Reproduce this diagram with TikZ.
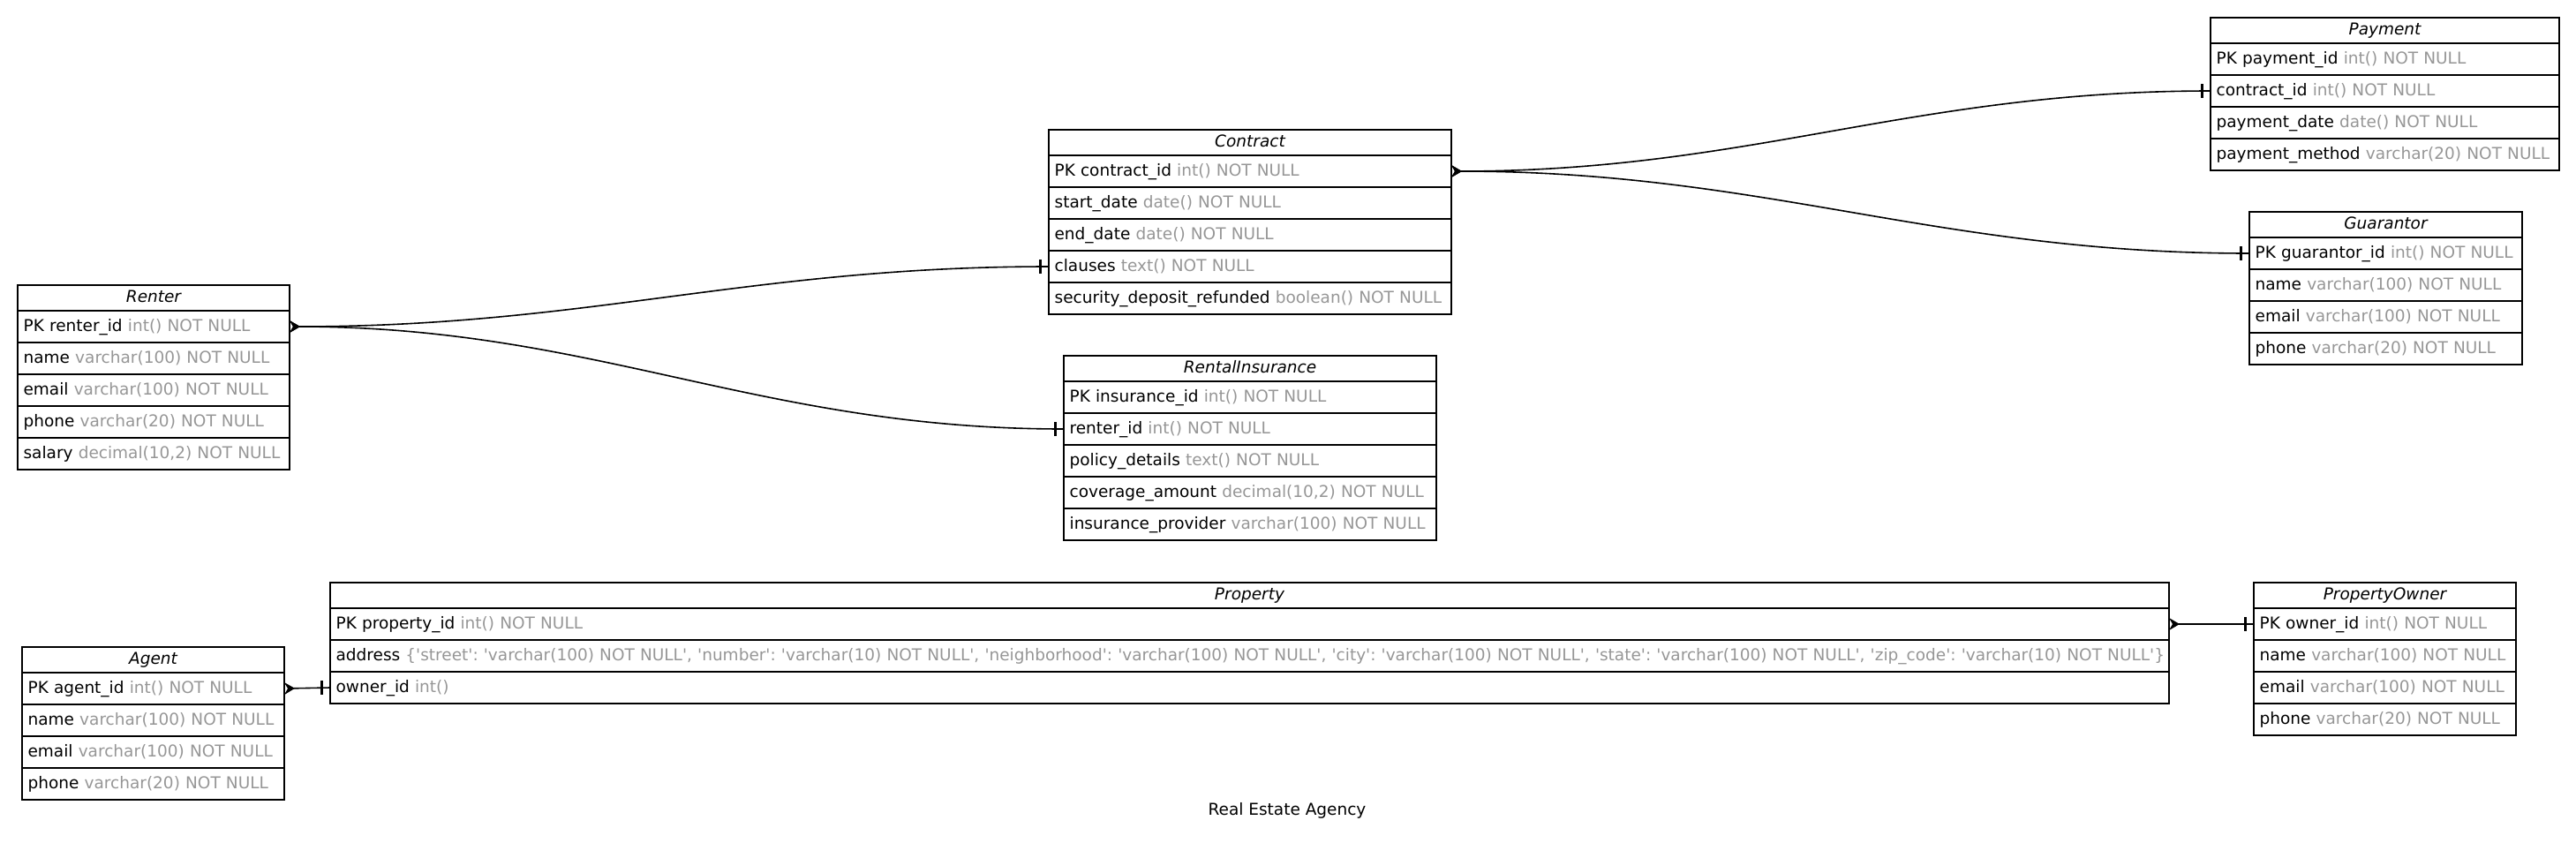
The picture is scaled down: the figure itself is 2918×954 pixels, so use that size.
\documentclass[tikz,border=0pt]{standalone}
\usepackage{fontspec}
\setmainfont{DejaVu Sans}
\usetikzlibrary{positioning, arrows.meta}
\definecolor{typegray}{RGB}{150,150,150}
\newcommand{\fld}[2]{#1 \textcolor{typegray}{#2}}
\newcommand{\sq}{\textquotesingle}
\frenchspacing
\tikzset{every node/.style={font=\fontsize{9.25pt}{11pt}\selectfont},
  tblhead/.style={draw, line width=0.8pt, outer sep=0pt, text width=#1, align=center, minimum height=14.5pt, inner xsep=3.3pt, inner ysep=0pt, text height=7pt, text depth=2pt, font=\fontsize{9.25pt}{11pt}\selectfont\itshape},
  tblrow/.style={draw, line width=0.8pt, outer sep=0pt, text width=#1, align=left, minimum height=18pt, inner xsep=3.3pt, inner ysep=0pt, text height=7pt, text depth=2pt},
  rel/.style={{Stealth[reversed, length=6pt, width=7pt, inset=2pt]}-, line width=0.8pt},
  tee/.style={fill, inner sep=0pt, minimum width=1.5pt, minimum height=8pt}}

\begin{document}
\begin{tikzpicture}[x=0.5pt, y=-0.5pt]
\useasboundingbox (0,0) rectangle (2918,954);
\node[tblhead=147.4pt, anchor=north west] (Renter0) at (20,323) {Renter};
\node[tblrow=147.4pt, below=0pt of Renter0] (Renter1) {\fld{PK renter\_id}{int() NOT NULL}};
\node[tblrow=147.4pt, below=0pt of Renter1] (Renter2) {\fld{name}{varchar(100) NOT NULL}};
\node[tblrow=147.4pt, below=0pt of Renter2] (Renter3) {\fld{email}{varchar(100) NOT NULL}};
\node[tblrow=147.4pt, below=0pt of Renter3] (Renter4) {\fld{phone}{varchar(20) NOT NULL}};
\node[tblrow=147.4pt, below=0pt of Renter4] (Renter5) {\fld{salary}{decimal(10,2) NOT NULL}};
\node[tblhead=221.4pt, anchor=north west] (Contract0) at (1188,147) {Contract};
\node[tblrow=221.4pt, below=0pt of Contract0] (Contract1) {\fld{PK contract\_id}{int() NOT NULL}};
\node[tblrow=221.4pt, below=0pt of Contract1] (Contract2) {\fld{start\_date}{date() NOT NULL}};
\node[tblrow=221.4pt, below=0pt of Contract2] (Contract3) {\fld{end\_date}{date() NOT NULL}};
\node[tblrow=221.4pt, below=0pt of Contract3] (Contract4) {\fld{clauses}{text() NOT NULL}};
\node[tblrow=221.4pt, below=0pt of Contract4] (Contract5) {\fld{security\_deposit\_refunded}{boolean() NOT NULL}};
\node[tblhead=204.4pt, anchor=north west] (Insurance0) at (1205,403) {RentalInsurance};
\node[tblrow=204.4pt, below=0pt of Insurance0] (Insurance1) {\fld{PK insurance\_id}{int() NOT NULL}};
\node[tblrow=204.4pt, below=0pt of Insurance1] (Insurance2) {\fld{renter\_id}{int() NOT NULL}};
\node[tblrow=204.4pt, below=0pt of Insurance2] (Insurance3) {\fld{policy\_details}{text() NOT NULL}};
\node[tblrow=204.4pt, below=0pt of Insurance3] (Insurance4) {\fld{coverage\_amount}{decimal(10,2) NOT NULL}};
\node[tblrow=204.4pt, below=0pt of Insurance4] (Insurance5) {\fld{insurance\_provider}{varchar(100) NOT NULL}};
\node[tblhead=190.9pt, anchor=north west] (Payment0) at (2504,20) {Payment};
\node[tblrow=190.9pt, below=0pt of Payment0] (Payment1) {\fld{PK payment\_id}{int() NOT NULL}};
\node[tblrow=190.9pt, below=0pt of Payment1] (Payment2) {\fld{contract\_id}{int() NOT NULL}};
\node[tblrow=190.9pt, below=0pt of Payment2] (Payment3) {\fld{payment\_date}{date() NOT NULL}};
\node[tblrow=190.9pt, below=0pt of Payment3] (Payment4) {\fld{payment\_method}{varchar(20) NOT NULL}};
\node[tblhead=147.9pt, anchor=north west] (Guarantor0) at (2548,240) {Guarantor};
\node[tblrow=147.9pt, below=0pt of Guarantor0] (Guarantor1) {\fld{PK guarantor\_id}{int() NOT NULL}};
\node[tblrow=147.9pt, below=0pt of Guarantor1] (Guarantor2) {\fld{name}{varchar(100) NOT NULL}};
\node[tblrow=147.9pt, below=0pt of Guarantor2] (Guarantor3) {\fld{email}{varchar(100) NOT NULL}};
\node[tblrow=147.9pt, below=0pt of Guarantor3] (Guarantor4) {\fld{phone}{varchar(20) NOT NULL}};
\node[tblhead=141.9pt, anchor=north west] (Agent0) at (25,733) {Agent};
\node[tblrow=141.9pt, below=0pt of Agent0] (Agent1) {\fld{PK agent\_id}{int() NOT NULL}};
\node[tblrow=141.9pt, below=0pt of Agent1] (Agent2) {\fld{name}{varchar(100) NOT NULL}};
\node[tblrow=141.9pt, below=0pt of Agent2] (Agent3) {\fld{email}{varchar(100) NOT NULL}};
\node[tblrow=141.9pt, below=0pt of Agent3] (Agent4) {\fld{phone}{varchar(20) NOT NULL}};
\node[tblhead=1034.9pt, anchor=north west] (Property0) at (374,660) {Property};
\node[tblrow=1034.9pt, below=0pt of Property0] (Property1) {\fld{PK property\_id}{int() NOT NULL}};
\node[tblrow=1034.9pt, below=0pt of Property1] (Property2) {\mbox{\fld{address}{\{\sq street\sq: \sq varchar(100) NOT NULL\sq, \sq number\sq: \sq varchar(10) NOT NULL\sq, \sq neighborhood\sq: \sq varchar(100) NOT NULL\sq, \sq city\sq: \sq varchar(100) NOT NULL\sq, \sq state\sq: \sq varchar(100) NOT NULL\sq, \sq zip\_code\sq: \sq varchar(10) NOT NULL\sq\}}}};
\node[tblrow=1034.9pt, below=0pt of Property2] (Property3) {\fld{owner\_id}{int()}};
\node[tblhead=141.9pt, anchor=north west] (Owner0) at (2553,660) {PropertyOwner};
\node[tblrow=141.9pt, below=0pt of Owner0] (Owner1) {\fld{PK owner\_id}{int() NOT NULL}};
\node[tblrow=141.9pt, below=0pt of Owner1] (Owner2) {\fld{name}{varchar(100) NOT NULL}};
\node[tblrow=141.9pt, below=0pt of Owner2] (Owner3) {\fld{email}{varchar(100) NOT NULL}};
\node[tblrow=141.9pt, below=0pt of Owner3] (Owner4) {\fld{phone}{varchar(20) NOT NULL}};
\node (Title) at (1458,918) {Real Estate Agency};
\draw[rel] (Renter1.east) to[out=0, in=180] node[tee, pos=1, xshift=-5pt] {} (Contract4.west);
\draw[rel] (Renter1.east) to[out=0, in=180] node[tee, pos=1, xshift=-5pt] {} (Insurance2.west);
\draw[rel] (Contract1.east) to[out=0, in=180] node[tee, pos=1, xshift=-5pt] {} (Payment2.west);
\draw[rel] (Contract1.east) to[out=0, in=180] node[tee, pos=1, xshift=-5pt] {} (Guarantor1.west);
\draw[rel] (Agent1.east) -- node[tee, pos=1, xshift=-5pt] {} (Property3.west);
\draw[rel] (Property1.east) -- node[tee, pos=1, xshift=-5pt] {} (Owner1.west);
\end{tikzpicture}
\end{document}
